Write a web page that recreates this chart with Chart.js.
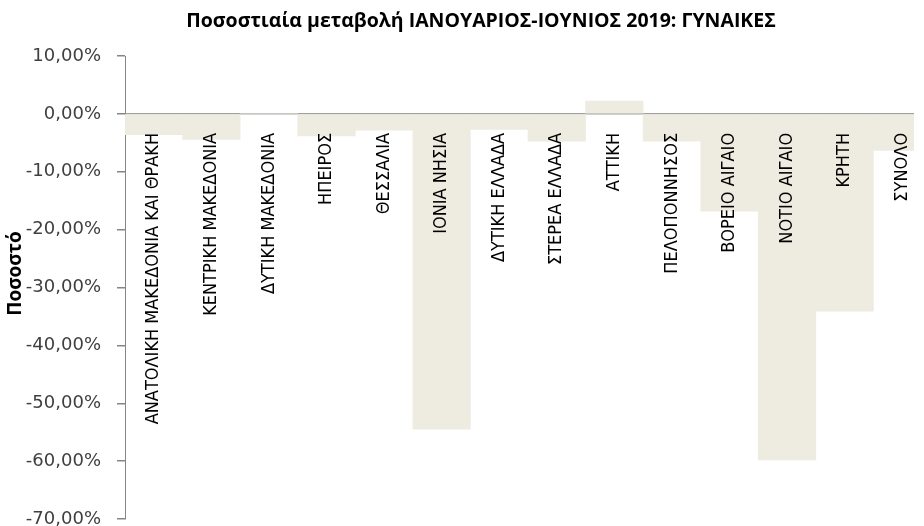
<!DOCTYPE html>
<html>
<head>
<meta charset="utf-8">
<script src="https://cdn.jsdelivr.net/npm/chart.js@4"></script>
<style>
    html, body { margin: 0; padding: 0; background: #fff; overflow: hidden; }
    #wrap { width: 914px; height: 526px; overflow: hidden; }
    canvas { display: block; }
</style>
</head>
<body>
<div id="wrap"><canvas id="chart" width="962" height="526"></canvas></div>
<script>
// === DỮ LIỆU ===
const categories = [
    'ΑΝΑΤΟΛΙΚΗ ΜΑΚΕΔΟΝΙΑ ΚΑΙ ΘΡΑΚΗ', 'ΚΕΝΤΡΙΚΗ ΜΑΚΕΔΟΝΙΑ', 'ΔΥΤΙΚΗ ΜΑΚΕΔΟΝΙΑ',
    'ΗΠΕΙΡΟΣ', 'ΘΕΣΣΑΛΙΑ', 'ΙΟΝΙΑ ΝΗΣΙΑ', 'ΔΥΤΙΚΗ ΕΛΛΑΔΑ', 'ΣΤΕΡΕΑ ΕΛΛΑΔΑ',
    'ΑΤΤΙΚΗ', 'ΠΕΛΟΠΟΝΝΗΣΟΣ', 'ΒΟΡΕΙΟ ΑΙΓΑΙΟ', 'ΝΟΤΙΟ ΑΙΓΑΙΟ', 'ΚΡΗΤΗ', 'ΣΥΝΟΛΟ'
];
const changePct = [-3.6, -4.4, 0.0, -3.8, -2.8, -54.5, -2.7, -4.7, 2.2, -4.7, -16.8, -59.8, -34.1, -6.3];
const yMin = -70;
const yMax = 10;
const yStep = 10;

const titleText = 'Ποσοστιαία μεταβολή ΙΑΝΟΥΑΡΙΟΣ-ΙΟΥΝΙΟΣ 2019: ΓΥΝΑΙΚΕΣ';
const yTitle = 'Ποσοστό';

// === HELPER ===
const formatPct = (value) => value.toFixed(2).replace('.', ',') + '%';

// Nhãn vùng viết dọc, đặt ngay dưới đường 0
const regionLabels = {
    id: 'regionLabels',
    afterDatasetsDraw(chart) {
        const { ctx, scales: { x, y } } = chart;
        const top = y.getPixelForValue(0) + 19;
        ctx.save();
        ctx.font = "18px 'Liberation Sans Narrow', 'DejaVu Sans Condensed', 'Liberation Sans'";
        ctx.fillStyle = '#000';
        ctx.textAlign = 'right';
        ctx.textBaseline = 'middle';
        categories.forEach((label, i) => {
            ctx.save();
            ctx.translate(x.getPixelForValue(i), top);
            ctx.rotate(-Math.PI / 2);
            ctx.fillText(label, 0, 0);
            ctx.restore();
        });
        ctx.restore();
    }
};

// Tiêu đề chính (canh giữa toàn khung) và tiêu đề trục Y
const chartTexts = {
    id: 'chartTexts',
    afterDraw(chart) {
        const { ctx, chartArea } = chart;
        ctx.save();
        ctx.fillStyle = '#000';
        ctx.textAlign = 'center';
        ctx.textBaseline = 'middle';
        ctx.font = "bold 19.5px 'Open Sans'";
        ctx.fillText(titleText, chart.width / 2, 21);

        ctx.font = "bold 19px 'Open Sans'";
        ctx.translate(15.5, (chartArea.top + chartArea.bottom) / 2 - 14);
        ctx.rotate(-Math.PI / 2);
        ctx.fillText(yTitle, 0, 0);
        ctx.restore();
    }
};

const ctx = document.getElementById('chart').getContext('2d');
new Chart(ctx, {
    type: 'bar',
    data: {
        labels: categories,
        datasets: [{
            data: changePct,
            backgroundColor: '#EEECE1',
            borderWidth: 0,
            barPercentage: 1,
            categoryPercentage: 1
        }]
    },
    options: {
        responsive: false,
        devicePixelRatio: 1,
        animation: false,
        layout: { padding: { top: 56, right: 31, bottom: 0, left: 0 } },
        scales: {
            x: { display: false },
            y: {
                min: yMin,
                max: yMax,
                afterFit: (scale) => {
                    // cố định độ rộng trục và bỏ phần đệm dọc do ticks.padding gây ra
                    scale.width = 125;
                    scale.paddingTop = 9;
                    scale.paddingBottom = 7;
                },
                ticks: {
                    stepSize: yStep,
                    callback: (value) => formatPct(value),
                    font: { family: 'DejaVu Sans', size: 18 },
                    color: '#404040',
                    padding: 16
                },
                grid: {
                    drawOnChartArea: true,
                    color: (c) => (c.tick && c.tick.value === 0 ? '#A0A0A0' : 'rgba(0,0,0,0)'),
                    tickColor: '#868686',
                    tickLength: 8,
                    lineWidth: 1.5
                },
                border: { color: '#868686', width: 1 }
            }
        },
        plugins: {
            legend: { display: false },
            tooltip: { enabled: false },
            title: { display: false }
        }
    },
    plugins: [regionLabels, chartTexts]
});
</script>
</body>
</html>
